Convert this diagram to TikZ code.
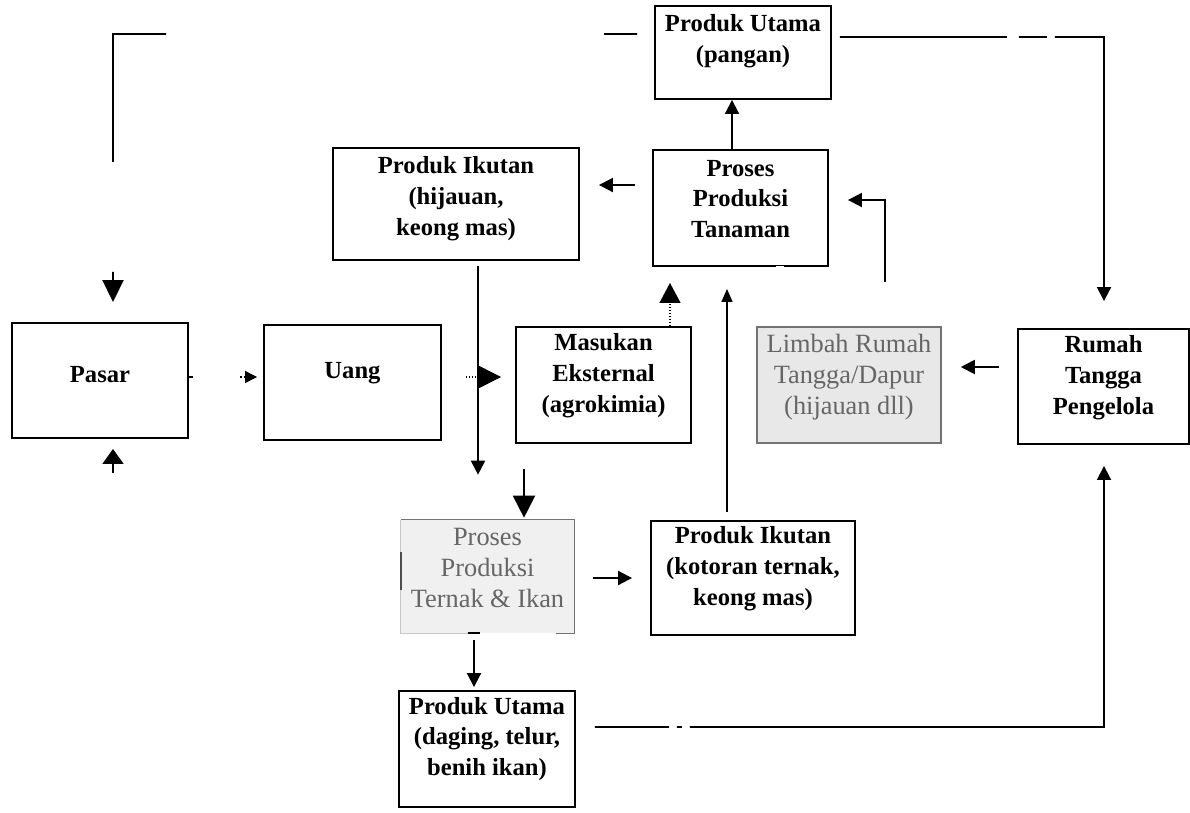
\documentclass[tikz,border=0pt]{standalone}
\usepackage{fontspec}
\setmainfont{Liberation Serif}
\usetikzlibrary{arrows.meta}
\begin{document}
\begin{tikzpicture}[x=0.02cm,y=-0.02cm,
  box/.style={draw=black, line width=1.1pt, rectangle, inner sep=0pt},
  graybox/.style={draw=black!55, line width=0.9pt, fill=black!9, rectangle, inner sep=0pt},
  txt/.style={align=center, font=\fontsize{14}{17.6}\selectfont\bfseries, inner sep=0pt},
  gtxt/.style={align=center, font=\fontsize{15}{17.6}\selectfont, inner sep=0pt, text=black!60},
  conn/.style={line width=1.1pt},
  thinconn/.style={line width=0.7pt},
  arr/.style={conn, -{Triangle[length=0.28cm,width=0.28cm]}},
  bigarr/.style={-{Triangle[length=0.44cm,width=0.44cm]}},
]
\useasboundingbox (0,0) rectangle (1190,812);

% boxes
\node[box, minimum width=3.52cm, minimum height=1.86cm,
  label={[txt,yshift=0.22cm]center:Produk Utama\\(pangan)}] (pu1) at (743,52.5) {};
\node[box, minimum width=3.5cm, minimum height=2.32cm,
  label={[txt,yshift=0.18cm]center:Proses\\Produksi\\Tanaman}] (pt) at (740.5,208) {};
\node[box, minimum width=4.92cm, minimum height=2.24cm,
  label={[txt,yshift=0.1cm]center:Produk Ikutan\\(hijauan,\\keong mas)}] (pi1) at (456,204) {};
\node[box, minimum width=3.52cm, minimum height=2.3cm,
  label={[txt,yshift=0.12cm]center:Pasar}] (pasar) at (100,380.5) {};
\node[box, minimum width=3.54cm, minimum height=2.3cm,
  label={[txt,yshift=0.18cm]center:Uang}] (uang) at (352.5,382.5) {};
\node[box, minimum width=3.5cm, minimum height=2.32cm,
  label={[txt,yshift=0.18cm]center:Masukan\\Eksternal\\(agrokimia)}] (me) at (603.5,385) {};
\node[graybox, minimum width=3.68cm, minimum height=2.32cm,
  label={[gtxt,yshift=0.16cm]center:Limbah Rumah\\Tangga/Dapur\\(hijauan dll)}] (limbah) at (849,385) {};
\node[box, minimum width=3.42cm, minimum height=2.3cm,
  label={[txt,yshift=0.17cm]center:Rumah\\Tangga\\Pengelola}] (rt) at (1103.5,386.5) {};
\node[rectangle, inner sep=0pt, fill=black!6, minimum width=3.46cm, minimum height=2.26cm,
  label={[gtxt,yshift=0.17cm]center:Proses\\Produksi\\Ternak \& Ikan}] (ternak) at (487.5,576.5) {};
\node[box, minimum width=4.08cm, minimum height=2.28cm,
  label={[txt,yshift=0.18cm]center:Produk Ikutan\\(kotoran ternak,\\keong mas)}] (pi2) at (753,578) {};
\node[box, minimum width=3.52cm, minimum height=2.32cm,
  label={[txt,yshift=0.2cm]center:Produk Utama\\(daging, telur,\\benih ikan)}] (pu2) at (487,749) {};

% partly faded border of the livestock box, small gap in the crop box
\draw[black!22, line width=0.9pt] (ternak.north west) -- (ternak.south west) -- ([xshift=1.34cm]ternak.south west);
\draw[black!70, line width=1.1pt] ([yshift=-0.64cm]ternak.north west) -- ([yshift=-1.4cm]ternak.north west);
\draw[black!55, line width=0.9pt] (ternak.north west) -- (ternak.north east) -- (ternak.south east) -- ([xshift=-0.36cm]ternak.south east);
\draw[black, line width=1.1pt] ([xshift=1.34cm]ternak.south west) -- ([xshift=1.58cm]ternak.south west);
\draw[white, line width=1.6pt] ([xshift=2.48cm]pt.south west) -- ([xshift=2.64cm]pt.south west);

% helper coordinates
\coordinate (tl) at (113,34);
\coordinate (tr) at (1104,37);
\coordinate (br) at (1104,727);
\coordinate (lb1) at (885,282);
\coordinate (lb2) at (885,200);
\coordinate (pb) at (113,473);
\coordinate (tn) at (524,469);

% Produk Utama (pangan) -> Pasar (broken line)
\draw[conn, -{Triangle[length=0.44cm,width=0.42cm]},
  dash pattern=on 0pt off 0.34cm on 0.66cm off 8.76cm on 3.62cm off 2.2cm on 3cm, shorten >=0.4cm]
  ([yshift=0.37cm]pu1.west) -- (tl) -- (tl |- pasar.north);
% Produk Utama (pangan) -> Rumah Tangga
\draw[arr, dash pattern=on 3.34cm off 0.24cm on 0.56cm off 0.16cm on 20cm,
  shorten <=0.16cm, shorten >=0.54cm]
  ([yshift=0.31cm]pu1.east) -- (tr) -- (tr |- rt.north);
% Proses Tanaman -> Produk Utama (pangan)
\draw[arr] ([xshift=-0.17cm]pt.north) -- ([xshift=-0.17cm]pt.north |- pu1.south);
% Proses Tanaman -> Produk Ikutan (hijauan)
\draw[arr, shorten <=0.34cm, shorten >=0.38cm]
  ([yshift=0.46cm]pt.west) -- ([yshift=0.46cm]pt.west -| pi1.east);
% Limbah -> Proses Tanaman
\draw[arr, shorten >=0.38cm] (lb1) -- (lb2) -- (lb2 -| pt.east);
% Rumah Tangga -> Limbah
\draw[arr, shorten <=0.36cm, shorten >=0.38cm]
  ([yshift=0.39cm]rt.west) -- ([yshift=0.39cm]rt.west -| limbah.east);
% Pasar -> Uang (dotted)
\draw[thinconn, dash pattern=on 0.08cm off 0.94cm on 0.04cm off 0.04cm on 0.04cm off 0.04cm on 1cm,
  -{Triangle[length=0.24cm,width=0.24cm]}, shorten >=0.12cm]
  ([yshift=0.07cm]pasar.east) -- ([yshift=0.07cm]pasar.east -| uang.west);
% Uang -> Masukan Eksternal
\draw[thinconn, densely dotted, bigarr, shorten <=0.48cm, shorten >=0.28cm]
  ([yshift=0.11cm]uang.east) -- ([yshift=0.11cm]uang.east -| me.west);
% Masukan Eksternal -> Proses Tanaman
\draw[thinconn, densely dotted, -{Triangle[length=0.4cm,width=0.42cm]}, shorten >=0.32cm]
  ([xshift=1.33cm]me.north) -- ([xshift=1.33cm]me.north |- pt.south);
% Produk Ikutan (kotoran) -> Proses Tanaman
\draw[thinconn, -{Triangle[length=0.26cm,width=0.22cm]}, shorten <=0.16cm, shorten >=0.44cm]
  ([xshift=-0.52cm]pi2.north) -- ([xshift=-0.52cm]pi2.north |- pt.south);
% Produk Ikutan (hijauan) -> down
\draw[arr, shorten <=0.1cm, shorten >=0.9cm]
  ([xshift=0.44cm]pi1.south) -- ([xshift=0.44cm]pi1.south |- ternak.north);
% -> Proses Ternak
\draw[arr, bigarr, shorten >=0.04cm] (tn) -- (tn |- ternak.north);
% Proses Ternak -> Produk Ikutan (kotoran)
\draw[arr, shorten <=0.38cm, shorten >=0.36cm]
  ([yshift=-0.03cm]ternak.east) -- ([yshift=-0.03cm]ternak.east -| pi2.west);
% Proses Ternak -> Produk Utama (daging)
\draw[arr, shorten <=0.14cm, shorten >=0.06cm]
  ([xshift=-0.27cm]ternak.south) -- ([xshift=-0.27cm]ternak.south |- pu2.north);
% Produk Utama (daging) -> Rumah Tangga
\draw[arr, dash pattern=on 1.48cm off 0.16cm on 0.1cm off 0.16cm on 30cm,
  shorten <=0.38cm, shorten >=0.42cm]
  ([yshift=0.44cm]pu2.east) -- (br) -- (br |- rt.south);
% stub into Pasar from below
\draw[conn, -{Triangle[length=0.3cm,width=0.42cm]}, shorten >=0.2cm] (pb) -- (pb |- pasar.south);
\end{tikzpicture}
\end{document}
